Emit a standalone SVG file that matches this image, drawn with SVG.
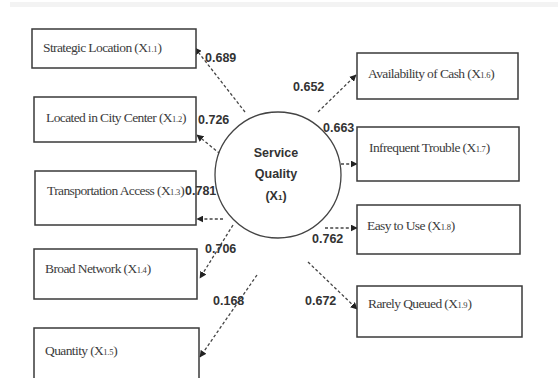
<svg xmlns="http://www.w3.org/2000/svg" width="558" height="378" viewBox="0 0 558 378">
<style>
.box{fill:#fff;stroke:#3a3a3a;stroke-width:1.5}
.t{font-family:"Liberation Serif",serif;font-size:13.5px;letter-spacing:-0.6px;fill:#3c3c3c}
.sub{font-size:8.5px;letter-spacing:-0.2px}
.lbl{font-family:"Liberation Sans",Arial,sans-serif;font-weight:bold;font-size:12.5px;fill:#333}
.c{fill:none;stroke:#444;stroke-width:1.3;stroke-dasharray:3 2.2;marker-end:url(#ah)}
</style>
<defs>
<marker id="ah" viewBox="0 0 10 10" refX="9" refY="5" markerWidth="7" markerHeight="7" markerUnits="userSpaceOnUse" orient="auto">
<path d="M0,0 L10,5 L0,10 z" fill="#222"/>
</marker>
</defs>
<rect x="0" y="0" width="558" height="378" fill="#fff"/>
<rect x="10" y="2" width="548" height="5" fill="#f3f3f3"/>

<g id="connectors">
<path class="c" d="M245,112 L195,48"/>
<path class="c" d="M224,157 L197,135"/>
<path class="c" d="M223,219 L197,219"/>
<path class="c" d="M233,225 L200,278"/>
<path class="c" d="M257,275 L200,357"/>
<path class="c" d="M318,112 L356,75"/>
<path class="c" d="M341,164 L357,164"/>
<path class="c" d="M325,228 L357,228"/>
<path class="c" d="M308,262 L357,309"/>
</g>

<g id="n1"><rect class="box" x="32" y="29" width="164" height="39"/>
<text class="t" x="43" y="52">Strategic Location (X<tspan class="sub">1.1</tspan>)</text></g>
<g id="n2"><rect class="box" x="34" y="97" width="162" height="45"/>
<text class="t" x="46" y="122">Located in City Center (X<tspan class="sub">1.2</tspan>)</text></g>
<g id="n3"><rect class="box" x="35" y="171" width="161" height="54"/>
<text class="t" x="47" y="195">Transportation Access (X<tspan class="sub">1.3</tspan>)</text></g>
<g id="n4"><rect class="box" x="34" y="249" width="163" height="50"/>
<text class="t" x="45" y="273">Broad Network (X<tspan class="sub">1.4</tspan>)</text></g>
<g id="n5"><rect class="box" x="34" y="328" width="165" height="60"/>
<text class="t" x="45" y="355">Quantity (X<tspan class="sub">1.5</tspan>)</text></g>

<g id="n6"><rect class="box" x="357" y="53" width="161" height="46"/>
<text class="t" x="368" y="78">Availability of Cash (X<tspan class="sub">1.6</tspan>)</text></g>
<g id="n7"><rect class="box" x="357" y="127" width="162" height="54"/>
<text class="t" x="369" y="152">Infrequent Trouble (X<tspan class="sub">1.7</tspan>)</text></g>
<g id="n8"><rect class="box" x="357" y="205" width="163" height="49"/>
<text class="t" x="367" y="230">Easy to Use  (X<tspan class="sub">1.8</tspan>)</text></g>
<g id="n9"><rect class="box" x="357" y="286" width="165" height="51"/>
<text class="t" x="368" y="308">Rarely Queued (X<tspan class="sub">1.9</tspan>)</text></g>

<g id="center">
<circle cx="278" cy="175" r="63" fill="#fff" stroke="#444" stroke-width="1.3"/>
<text class="lbl" x="276" y="157" text-anchor="middle">Service</text>
<text class="lbl" x="276" y="178" text-anchor="middle">Quality</text>
<text class="lbl" x="276" y="200" text-anchor="middle">(X<tspan font-size="8">1</tspan>)</text>
</g>

<g id="labels">
<text class="lbl" x="205" y="62">0.689</text>
<text class="lbl" x="198" y="124">0.726</text>
<text class="lbl" x="185" y="195">0.781</text>
<text class="lbl" x="205" y="253">0.706</text>
<text class="lbl" x="213" y="305">0.168</text>
<text class="lbl" x="293" y="91">0.652</text>
<text class="lbl" x="323" y="132">0.663</text>
<text class="lbl" x="312" y="243">0.762</text>
<text class="lbl" x="305" y="305">0.672</text>
</g>
</svg>
